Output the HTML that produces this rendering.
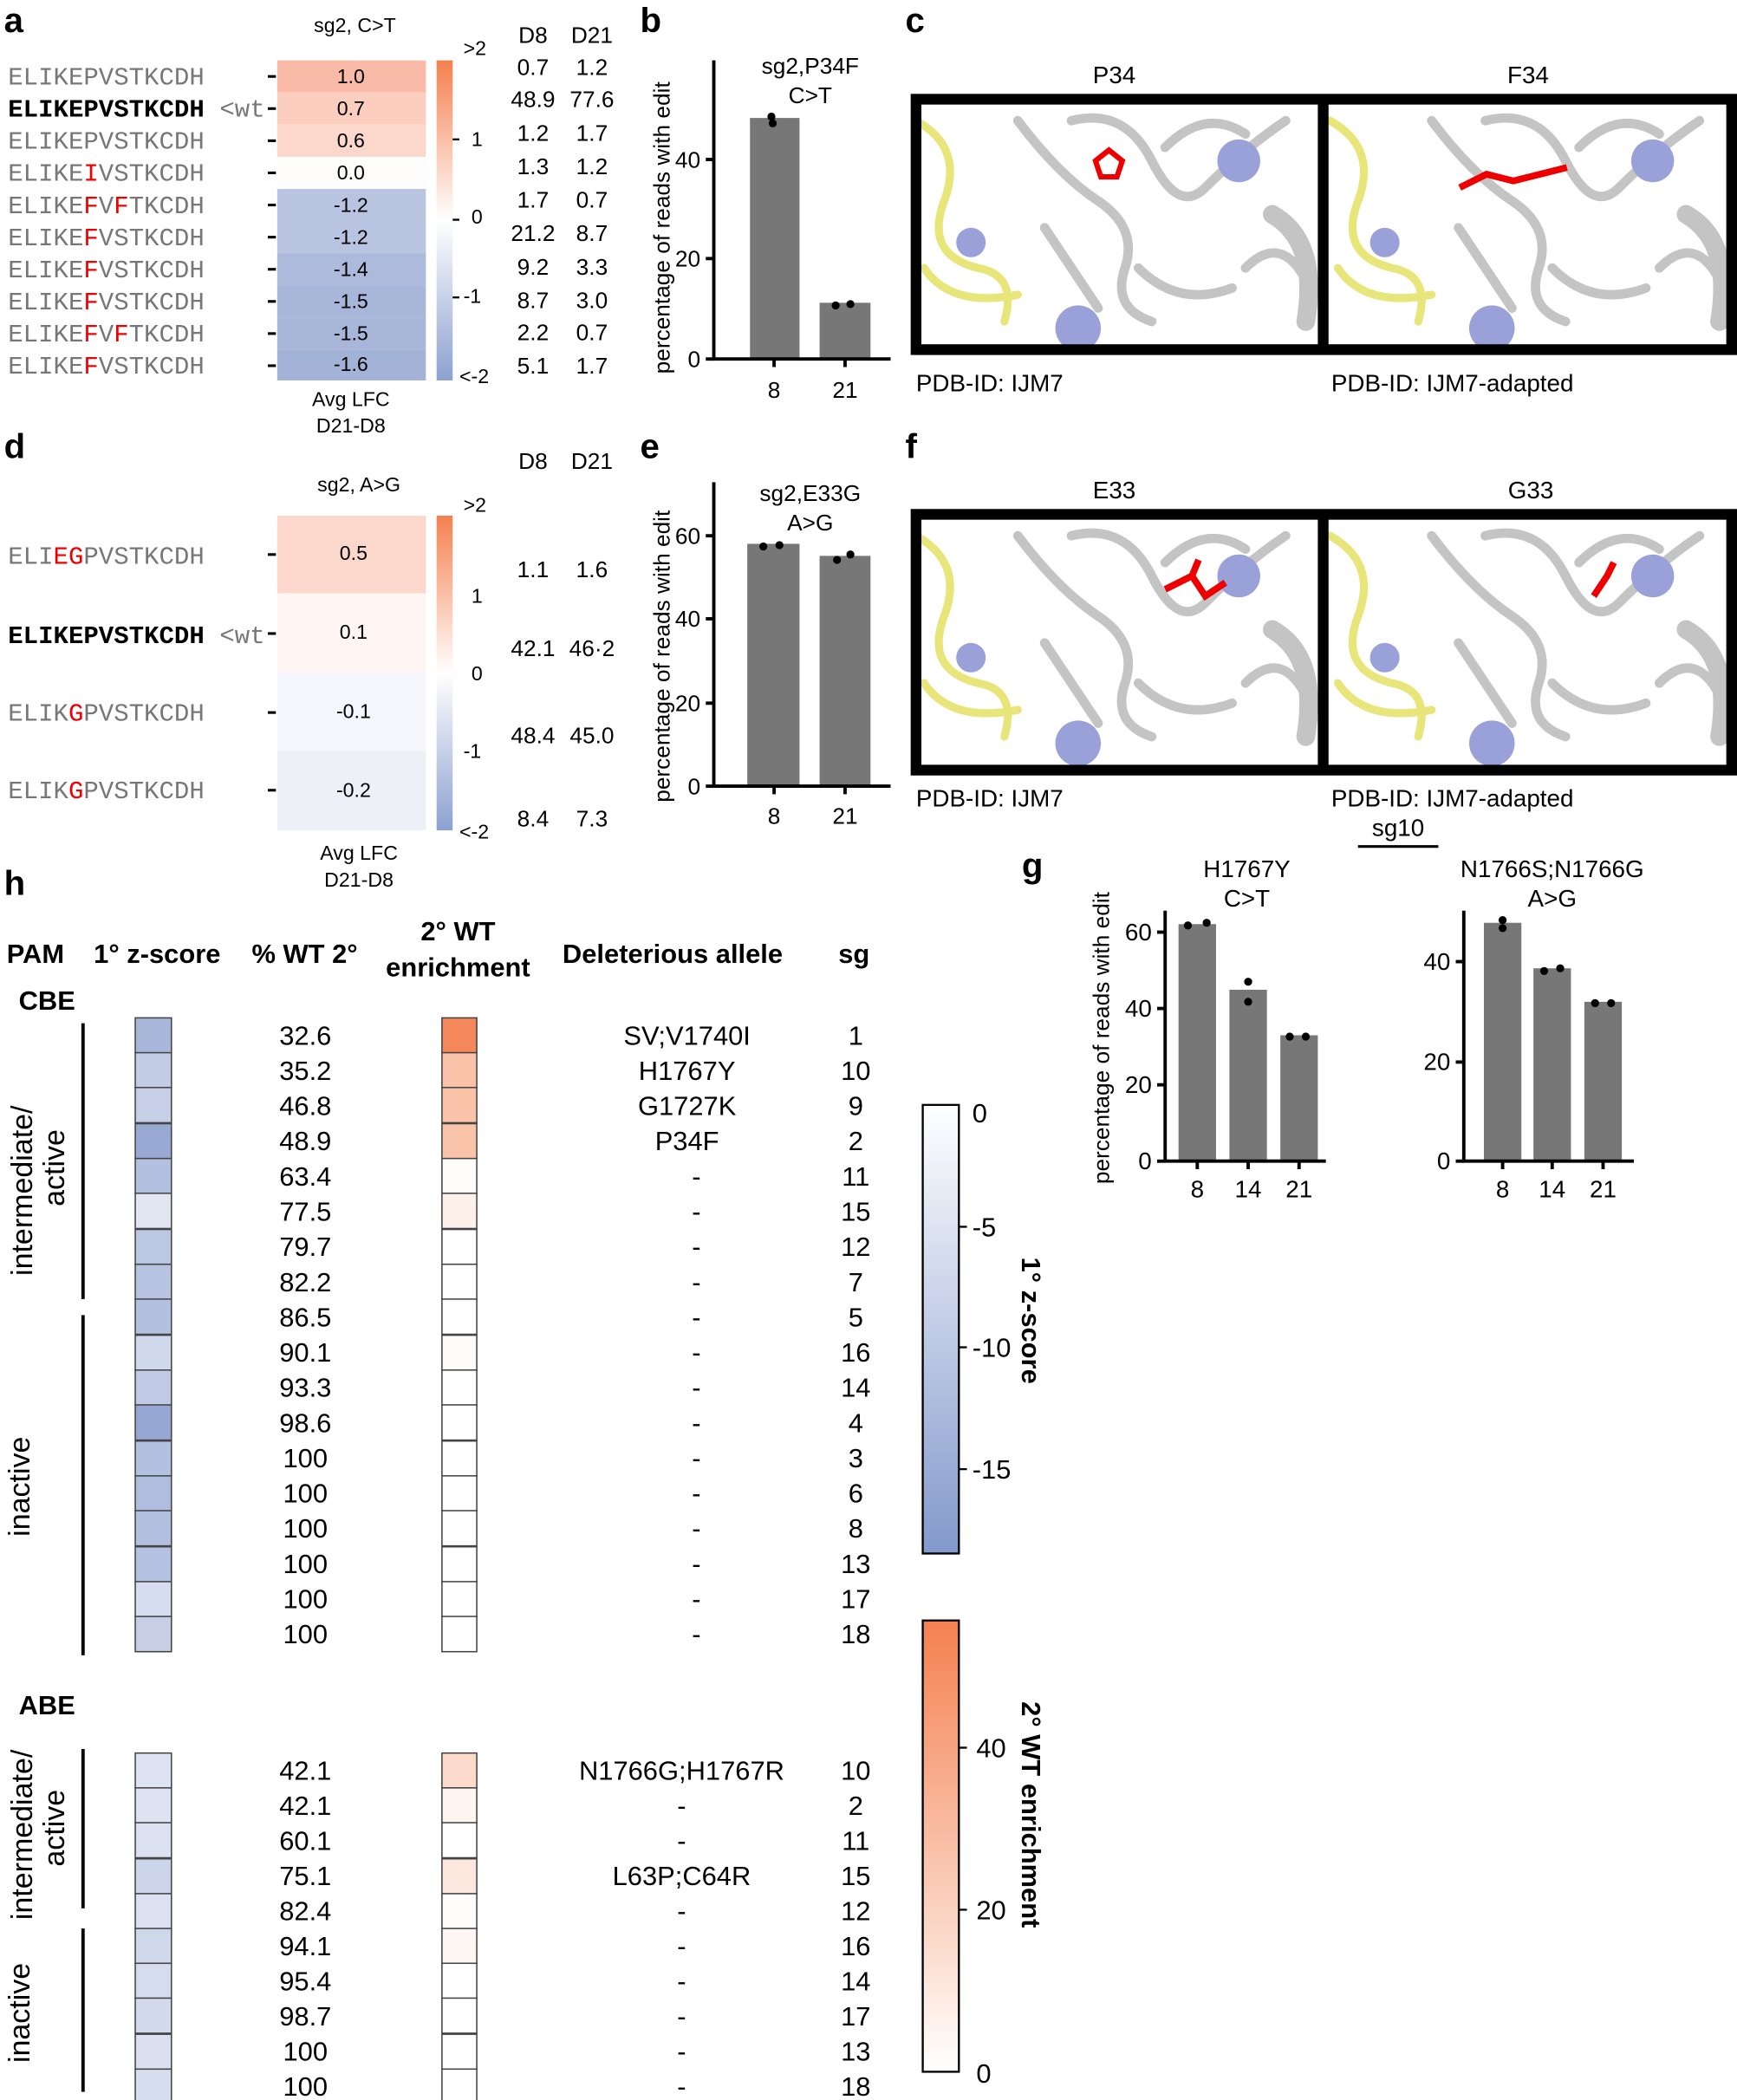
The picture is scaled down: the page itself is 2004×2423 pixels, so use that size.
<!DOCTYPE html>
<html><head><meta charset="utf-8"><style>
html,body{margin:0;padding:0;background:#fff}
svg{display:block}
text{font-family:"Liberation Sans",Arial,sans-serif}
.m text{font-family:"Liberation Mono","Courier New",monospace;font-size:18.8px;fill:#777}
</style></head><body>
<svg width="2004" height="2423" viewBox="0 0 1297 1568" xmlns="http://www.w3.org/2000/svg">
<defs>
<linearGradient id="cb1" x1="0" y1="0" x2="0" y2="1">
<stop offset="0" stop-color="#f4804f"/><stop offset="0.5" stop-color="#fff"/><stop offset="1" stop-color="#8da1d0"/></linearGradient>
<linearGradient id="cbz" x1="0" y1="0" x2="0" y2="1">
<stop offset="0" stop-color="#fff"/><stop offset="1" stop-color="#8399cc"/></linearGradient>
<linearGradient id="cbo" x1="0" y1="0" x2="0" y2="1">
<stop offset="0" stop-color="#f4804f"/><stop offset="1" stop-color="#fff"/></linearGradient>
</defs>
<g font-size="26" font-weight="bold">
<text x="3" y="24">a</text><text x="478" y="24">b</text><text x="676" y="24">c</text>
<text x="3" y="342">d</text><text x="478" y="342">e</text><text x="676" y="342">f</text>
<text x="763" y="655">g</text><text x="3" y="668">h</text></g>

<!-- panel a -->
<text x="265" y="24" font-size="15" text-anchor="middle">sg2, C&gt;T</text>
<g text-anchor="middle" font-size="17"><text x="398" y="32">D8</text><text x="442" y="32">D21</text><text x="398" y="350">D8</text><text x="442" y="350">D21</text></g>
<g>
<rect x="207" y="45" width="111" height="24" fill="#f9bba7"/>
<rect x="207" y="69" width="111" height="24" fill="#fbcebf"/>
<rect x="207" y="93" width="111" height="24" fill="#fcd7cb"/>
<rect x="207" y="117" width="111" height="24" fill="#fffcfc"/>
<rect x="207" y="141" width="111" height="24" fill="#b9c4e0"/>
<rect x="207" y="165" width="111" height="24" fill="#b9c4e0"/>
<rect x="207" y="189" width="111" height="24" fill="#adbadb"/>
<rect x="207" y="213" width="111" height="24" fill="#a8b6d9"/>
<rect x="207" y="237" width="111" height="24" fill="#a8b6d9"/>
<rect x="207" y="261" width="111" height="23" fill="#a3b2d7"/>
</g>
<g font-size="15" text-anchor="middle">
<text x="262" y="62">1.0</text><text x="262" y="86">0.7</text><text x="262" y="110">0.6</text><text x="262" y="134">0.0</text>
<text x="262" y="158">-1.2</text><text x="262" y="182">-1.2</text><text x="262" y="206">-1.4</text><text x="262" y="230">-1.5</text><text x="262" y="254">-1.5</text><text x="262" y="277">-1.6</text></g>
<g stroke="#000" stroke-width="2"><line x1="200" y1="57" x2="206" y2="57"/><line x1="200" y1="81" x2="206" y2="81"/><line x1="200" y1="105" x2="206" y2="105"/><line x1="200" y1="129" x2="206" y2="129"/><line x1="200" y1="153" x2="206" y2="153"/><line x1="200" y1="177" x2="206" y2="177"/><line x1="200" y1="201" x2="206" y2="201"/><line x1="200" y1="225" x2="206" y2="225"/><line x1="200" y1="249" x2="206" y2="249"/><line x1="200" y1="273" x2="206" y2="273"/></g>
<g class="m">
<text x="6" y="63">ELIKEPVSTKCDH</text>
<text x="6" y="87" style="fill:#000;font-weight:bold">ELIKEPVSTKCDH</text>
<text x="164" y="87">&lt;wt</text>
<text x="6" y="111">ELIKEPVSTKCDH</text>
<text x="6" y="135">ELIKE<tspan fill="#e00">I</tspan>VSTKCDH</text>
<text x="6" y="159">ELIKE<tspan fill="#e00">F</tspan>V<tspan fill="#e00">F</tspan>TKCDH</text>
<text x="6" y="183">ELIKE<tspan fill="#e00">F</tspan>VSTKCDH</text>
<text x="6" y="207">ELIKE<tspan fill="#e00">F</tspan>VSTKCDH</text>
<text x="6" y="231">ELIKE<tspan fill="#e00">F</tspan>VSTKCDH</text>
<text x="6" y="255">ELIKE<tspan fill="#e00">F</tspan>V<tspan fill="#e00">F</tspan>TKCDH</text>
<text x="6" y="279">ELIKE<tspan fill="#e00">F</tspan>VSTKCDH</text>
</g>
<rect x="326" y="45" width="12" height="239" fill="url(#cb1)"/>
<g font-size="15"><text x="346" y="41">&gt;2</text><text x="352" y="109">1</text><text x="352" y="167">0</text><text x="346" y="226">-1</text><text x="343" y="286">&lt;-2</text></g>
<g stroke="#000" stroke-width="1.5"><line x1="338" y1="104" x2="343" y2="104"/><line x1="338" y1="164" x2="343" y2="164"/><line x1="338" y1="222" x2="343" y2="222"/></g>
<g font-size="17" text-anchor="middle">
<text x="398" y="56">0.7</text><text x="442" y="56">1.2</text>
<text x="398" y="80">48.9</text><text x="442" y="80">77.6</text>
<text x="398" y="105">1.2</text><text x="442" y="105">1.7</text>
<text x="398" y="130">1.3</text><text x="442" y="130">1.2</text>
<text x="398" y="155">1.7</text><text x="442" y="155">0.7</text>
<text x="398" y="180">21.2</text><text x="442" y="180">8.7</text>
<text x="398" y="205">9.2</text><text x="442" y="205">3.3</text>
<text x="398" y="230">8.7</text><text x="442" y="230">3.0</text>
<text x="398" y="254">2.2</text><text x="442" y="254">0.7</text>
<text x="398" y="279">5.1</text><text x="442" y="279">1.7</text></g>
<g font-size="15" text-anchor="middle"><text x="262" y="303">Avg LFC</text><text x="262" y="323">D21-D8</text></g>

<!-- panel b -->
<g font-size="17" text-anchor="middle"><text x="605" y="55">sg2,P34F</text><text x="605" y="77">C&gt;T</text>
<text x="578" y="297">8</text><text x="631" y="297">21</text></g>
<rect x="560" y="88" width="37" height="180" fill="#777"/><rect x="612" y="226" width="38" height="42" fill="#777"/>
<circle cx="576" cy="87" r="3"/><circle cx="577" cy="92" r="3"/><circle cx="624" cy="228" r="3"/><circle cx="635" cy="227" r="3"/>
<g stroke="#000" stroke-width="2.5" fill="none"><path d="M533 45V268H665"/><line x1="527" y1="268" x2="533" y2="268"/><line x1="527" y1="193" x2="533" y2="193"/><line x1="527" y1="119" x2="533" y2="119"/><line x1="578" y1="268" x2="578" y2="274"/><line x1="631" y1="268" x2="631" y2="274"/></g>
<g font-size="17" text-anchor="end"><text x="523" y="274">0</text><text x="523" y="199">20</text><text x="523" y="125">40</text></g>
<text transform="translate(500,170) rotate(-90)" font-size="17" text-anchor="middle">percentage of reads with edit</text>

<!-- panel c structures -->
<g font-size="18" text-anchor="middle"><text x="832" y="62">P34</text><text x="1141" y="62">F34</text><text x="832" y="372">E33</text><text x="1143" y="372">G33</text></g>
<g id="s1">
<rect x="684" y="74" width="303" height="187" fill="#fff"/>
<g fill="none" stroke-linecap="round">
<path d="M684 90 Q720 110 705 150 Q690 190 730 200 Q760 205 750 240 M690 200 Q710 230 760 220" stroke="#e8e67a" stroke-width="6"/>
<path d="M760 90 Q790 130 820 150 Q850 170 840 200 Q830 230 860 240 M800 90 Q840 80 860 120 Q880 160 900 140 Q930 110 960 90 M930 200 Q960 170 980 220 M850 200 Q880 230 920 215 M870 110 Q900 80 930 100 M780 170 Q800 200 820 230" stroke="#c4c4c4" stroke-width="7"/>
<path d="M950 160 Q985 180 975 240" stroke="#c4c4c4" stroke-width="14"/>
</g>
<circle cx="925" cy="120" r="16" fill="#9aa0d8"/><circle cx="725" cy="181" r="11" fill="#9aa0d8"/><circle cx="805" cy="245" r="17" fill="#9aa0d8"/>
</g>
<use href="#s1" x="309"/>
<line x1="988" y1="74" x2="988" y2="261" stroke="#000" stroke-width="8"/>
<rect x="684" y="74" width="609" height="187" fill="none" stroke="#000" stroke-width="8"/>
<path d="M818 120 l10 -8 l10 8 l-4 12 h-12z" fill="none" stroke="#e00" stroke-width="4"/>
<path d="M1090 140 l20 -10 l20 5 l20 -5 l20 -5" fill="none" stroke="#e00" stroke-width="5"/>
<g font-size="18"><text x="684" y="292">PDB-ID: IJM7</text><text x="994" y="292">PDB-ID: IJM7-adapted</text>
<text x="684" y="602">PDB-ID: IJM7</text><text x="994" y="602">PDB-ID: IJM7-adapted</text></g>

<!-- panel f structures -->
<g transform="translate(0,310)">
<use href="#s1"/><use href="#s1" x="309"/>
<line x1="988" y1="74" x2="988" y2="265" stroke="#000" stroke-width="8"/>
<rect x="684" y="74" width="609" height="191" fill="none" stroke="#000" stroke-width="8"/>
<path d="M870 130 l20 -10 l10 15 l15 -10 M890 120 l5 -12" fill="none" stroke="#e00" stroke-width="5"/>
<path d="M1190 135 l10 -15 l5 -10" fill="none" stroke="#e00" stroke-width="5"/>
</g>

<!-- panel d -->
<text x="268" y="367" font-size="15" text-anchor="middle">sg2, A&gt;G</text>
<rect x="207" y="385" width="111" height="58" fill="#fcd8cc"/>
<rect x="207" y="443" width="111" height="59" fill="#fff6f3"/>
<rect x="207" y="502" width="111" height="59" fill="#f5f6fb"/>
<rect x="207" y="561" width="111" height="59" fill="#eef0f8"/>
<g font-size="15" text-anchor="middle"><text x="264" y="418">0.5</text><text x="264" y="477">0.1</text><text x="264" y="536">-0.1</text><text x="264" y="595">-0.2</text>
<text x="268" y="642">Avg LFC</text><text x="268" y="662">D21-D8</text></g>
<g stroke="#000" stroke-width="2"><line x1="200" y1="414" x2="206" y2="414"/><line x1="200" y1="473" x2="206" y2="473"/><line x1="200" y1="532" x2="206" y2="532"/><line x1="200" y1="590" x2="206" y2="590"/></g>
<g class="m">
<text x="6" y="421">ELI<tspan fill="#e00">EG</tspan>PVSTKCDH</text>
<text x="6" y="480" style="fill:#000;font-weight:bold">ELIKEPVSTKCDH</text><text x="164" y="480">&lt;wt</text>
<text x="6" y="538">ELIK<tspan fill="#e00">G</tspan>PVSTKCDH</text>
<text x="6" y="596">ELIK<tspan fill="#e00">G</tspan>PVSTKCDH</text></g>
<rect x="326" y="385" width="12" height="235" fill="url(#cb1)"/>
<g font-size="15"><text x="346" y="382">&gt;2</text><text x="352" y="450">1</text><text x="352" y="508">0</text><text x="346" y="566">-1</text><text x="343" y="626">&lt;-2</text></g>
<g font-size="17" text-anchor="middle">
<text x="398" y="431">1.1</text><text x="442" y="431">1.6</text>
<text x="398" y="490">42.1</text><text x="442" y="490">46·2</text>
<text x="398" y="555">48.4</text><text x="442" y="555">45.0</text>
<text x="398" y="617">8.4</text><text x="442" y="617">7.3</text></g>

<!-- panel e -->
<g font-size="17" text-anchor="middle"><text x="605" y="374">sg2,E33G</text><text x="605" y="396">A&gt;G</text>
<text x="578" y="615">8</text><text x="631" y="615">21</text></g>
<rect x="558" y="406" width="39" height="181" fill="#777"/><rect x="612" y="415" width="38" height="172" fill="#777"/>
<circle cx="570" cy="408" r="3"/><circle cx="582" cy="407" r="3"/><circle cx="625" cy="418" r="3"/><circle cx="635" cy="414" r="3"/>
<g stroke="#000" stroke-width="2.5" fill="none"><path d="M533 360V587H665"/><line x1="527" y1="587" x2="533" y2="587"/><line x1="527" y1="525" x2="533" y2="525"/><line x1="527" y1="462" x2="533" y2="462"/><line x1="527" y1="400" x2="533" y2="400"/><line x1="578" y1="587" x2="578" y2="593"/><line x1="631" y1="587" x2="631" y2="593"/></g>
<g font-size="17" text-anchor="end"><text x="523" y="593">0</text><text x="523" y="531">20</text><text x="523" y="468">40</text><text x="523" y="406">60</text></g>
<text transform="translate(500,490) rotate(-90)" font-size="17" text-anchor="middle">percentage of reads with edit</text>

<!-- panel g -->
<text x="1044" y="624" font-size="18" text-anchor="middle">sg10</text>
<line x1="1014" y1="632" x2="1074" y2="632" stroke="#000" stroke-width="2"/>
<g font-size="18" text-anchor="middle"><text x="931" y="655">H1767Y</text><text x="931" y="677">C&gt;T</text><text x="1159" y="655">N1766S;N1766G</text><text x="1159" y="677">A&gt;G</text></g>
<rect x="880" y="690" width="28" height="177" fill="#777"/><rect x="918" y="739" width="28" height="128" fill="#777"/><rect x="956" y="773" width="28" height="94" fill="#777"/>
<circle cx="887" cy="691" r="3"/><circle cx="901" cy="689" r="3"/><circle cx="932" cy="733" r="3"/><circle cx="932" cy="748" r="3"/><circle cx="963" cy="774" r="3"/><circle cx="975" cy="774" r="3"/>
<rect x="1108" y="689" width="28" height="178" fill="#777"/><rect x="1145" y="723" width="28" height="144" fill="#777"/><rect x="1183" y="748" width="28" height="119" fill="#777"/>
<circle cx="1122" cy="687" r="3"/><circle cx="1122" cy="693" r="3"/><circle cx="1153" cy="725" r="3"/><circle cx="1165" cy="723" r="3"/><circle cx="1191" cy="749" r="3"/><circle cx="1203" cy="749" r="3"/>
<g stroke="#000" stroke-width="2.5" fill="none">
<path d="M870 680V867H990"/><line x1="864" y1="867" x2="870" y2="867"/><line x1="864" y1="810" x2="870" y2="810"/><line x1="864" y1="753" x2="870" y2="753"/><line x1="864" y1="696" x2="870" y2="696"/>
<line x1="894" y1="867" x2="894" y2="873"/><line x1="932" y1="867" x2="932" y2="873"/><line x1="970" y1="867" x2="970" y2="873"/>
<path d="M1093 680V867H1220"/><line x1="1087" y1="867" x2="1093" y2="867"/><line x1="1087" y1="793" x2="1093" y2="793"/><line x1="1087" y1="718" x2="1093" y2="718"/>
<line x1="1122" y1="867" x2="1122" y2="873"/><line x1="1159" y1="867" x2="1159" y2="873"/><line x1="1197" y1="867" x2="1197" y2="873"/></g>
<g font-size="18" text-anchor="end"><text x="860" y="873">0</text><text x="860" y="816">20</text><text x="860" y="759">40</text><text x="860" y="702">60</text>
<text x="1083" y="873">0</text><text x="1083" y="799">20</text><text x="1083" y="724">40</text></g>
<g font-size="18" text-anchor="middle"><text x="894" y="894">8</text><text x="932" y="894">14</text><text x="970" y="894">21</text><text x="1122" y="894">8</text><text x="1159" y="894">14</text><text x="1197" y="894">21</text></g>
<text transform="translate(828,775) rotate(-90)" font-size="17" text-anchor="middle">percentage of reads with edit</text>

<!-- panel h -->
<g font-size="20" font-weight="bold"><text x="5" y="719">PAM</text><text x="70" y="719">1° z-score</text><text x="188" y="719">% WT 2°</text>
<text x="342" y="702" text-anchor="middle">2° WT</text><text x="342" y="729" text-anchor="middle">enrichment</text>
<text x="420" y="719">Deleterious allele</text><text x="626" y="719">sg</text>
<text x="14" y="754">CBE</text><text x="14" y="1280">ABE</text></g>
<g stroke="#000" stroke-width="2.5"><line x1="62" y1="764" x2="62" y2="970"/><line x1="62" y1="982" x2="62" y2="1236"/><line x1="62" y1="1306" x2="62" y2="1425"/><line x1="62" y1="1440" x2="62" y2="1562"/></g>
<g font-size="22" text-anchor="middle">
<text transform="translate(24,889) rotate(-90)">intermediate/</text><text transform="translate(48,872) rotate(-90)">active</text>
<text transform="translate(22,1110) rotate(-90)">inactive</text>
<text transform="translate(24,1370) rotate(-90)">intermediate/</text><text transform="translate(48,1365) rotate(-90)">active</text>
<text transform="translate(22,1503) rotate(-90)">inactive</text></g>
<g stroke="#444" stroke-width="1">
<rect x="101" y="760" width="27" height="26.3" fill="#a8b6d9"/>
<rect x="101" y="786" width="27" height="26.3" fill="#c3cde5"/>
<rect x="101" y="812" width="27" height="26.3" fill="#c6cfe6"/>
<rect x="101" y="839" width="27" height="26.3" fill="#98a9d3"/>
<rect x="101" y="865" width="27" height="26.3" fill="#b2bfdf"/>
<rect x="101" y="891" width="27" height="26.3" fill="#e1e6f2"/>
<rect x="101" y="918" width="27" height="26.3" fill="#bcc7e3"/>
<rect x="101" y="944" width="27" height="26.3" fill="#b7c3e1"/>
<rect x="101" y="970" width="27" height="26.3" fill="#b3c0df"/>
<rect x="101" y="997" width="27" height="26.3" fill="#d0d8eb"/>
<rect x="101" y="1023" width="27" height="26.3" fill="#c0cae4"/>
<rect x="101" y="1049" width="27" height="26.3" fill="#95a7d2"/>
<rect x="101" y="1076" width="27" height="26.3" fill="#b4c0df"/>
<rect x="101" y="1102" width="27" height="26.3" fill="#b0bdde"/>
<rect x="101" y="1128" width="27" height="26.3" fill="#b2bfdf"/>
<rect x="101" y="1155" width="27" height="26.3" fill="#b5c1e0"/>
<rect x="101" y="1181" width="27" height="26.3" fill="#d6ddee"/>
<rect x="101" y="1207" width="27" height="26.3" fill="#c6cfe6"/>
<rect x="330" y="760" width="26" height="26.3" fill="#f5885a"/>
<rect x="330" y="786" width="26" height="26.3" fill="#fac2a9"/>
<rect x="330" y="812" width="26" height="26.3" fill="#fac2a9"/>
<rect x="330" y="839" width="26" height="26.3" fill="#fac4ab"/>
<rect x="330" y="865" width="26" height="26.3" fill="#fffdfc"/>
<rect x="330" y="891" width="26" height="26.3" fill="#fef0ea"/>
<rect x="330" y="918" width="26" height="26.3" fill="#fff"/>
<rect x="330" y="944" width="26" height="26.3" fill="#fff"/>
<rect x="330" y="970" width="26" height="26.3" fill="#fff"/>
<rect x="330" y="997" width="26" height="26.3" fill="#fefbfa"/>
<rect x="330" y="1023" width="26" height="26.3" fill="#fff"/>
<rect x="330" y="1049" width="26" height="26.3" fill="#fff"/>
<rect x="330" y="1076" width="26" height="26.3" fill="#fff"/>
<rect x="330" y="1102" width="26" height="26.3" fill="#fff"/>
<rect x="330" y="1128" width="26" height="26.3" fill="#fff"/>
<rect x="330" y="1155" width="26" height="26.3" fill="#fff"/>
<rect x="330" y="1181" width="26" height="26.3" fill="#fff"/>
<rect x="330" y="1207" width="26" height="26.3" fill="#fff"/>
<rect x="101" y="1309" width="27" height="26.2" fill="#dde3f1"/>
<rect x="101" y="1335" width="27" height="26.2" fill="#dde3f1"/>
<rect x="101" y="1361" width="27" height="26.2" fill="#dbe1f0"/>
<rect x="101" y="1388" width="27" height="26.2" fill="#cdd5ea"/>
<rect x="101" y="1414" width="27" height="26.2" fill="#dbe1f0"/>
<rect x="101" y="1440" width="27" height="26.2" fill="#cfd7eb"/>
<rect x="101" y="1466" width="27" height="26.2" fill="#d5dced"/>
<rect x="101" y="1492" width="27" height="26.2" fill="#d3daec"/>
<rect x="101" y="1519" width="27" height="26.2" fill="#dae0f0"/>
<rect x="101" y="1545" width="27" height="26.2" fill="#d6ddee"/>
<rect x="330" y="1309" width="26" height="26.2" fill="#fcdbcd"/>
<rect x="330" y="1335" width="26" height="26.2" fill="#fef4f0"/>
<rect x="330" y="1361" width="26" height="26.2" fill="#fff"/>
<rect x="330" y="1388" width="26" height="26.2" fill="#fde8df"/>
<rect x="330" y="1414" width="26" height="26.2" fill="#fffcfb"/>
<rect x="330" y="1440" width="26" height="26.2" fill="#fef7f4"/>
<rect x="330" y="1466" width="26" height="26.2" fill="#fff"/>
<rect x="330" y="1492" width="26" height="26.2" fill="#fff"/>
<rect x="330" y="1519" width="26" height="26.2" fill="#fff"/>
<rect x="330" y="1545" width="26" height="26.2" fill="#fff"/>
</g>
<g font-size="20" text-anchor="middle">
<g transform="translate(0,780)">
<text x="228" y="0">32.6</text><text x="228" y="26.3">35.2</text><text x="228" y="52.6">46.8</text><text x="228" y="78.9">48.9</text><text x="228" y="105.2">63.4</text><text x="228" y="131.5">77.5</text><text x="228" y="157.8">79.7</text><text x="228" y="184.1">82.2</text><text x="228" y="210.4">86.5</text><text x="228" y="236.7">90.1</text><text x="228" y="263">93.3</text><text x="228" y="289.3">98.6</text><text x="228" y="315.6">100</text><text x="228" y="341.9">100</text><text x="228" y="368.2">100</text><text x="228" y="394.5">100</text><text x="228" y="420.8">100</text><text x="228" y="447.1">100</text>
<text x="513" y="0">SV;V1740I</text><text x="513" y="26.3">H1767Y</text><text x="513" y="52.6">G1727K</text><text x="513" y="78.9">P34F</text>
<text x="520" y="105.2">-</text><text x="520" y="131.5">-</text><text x="520" y="157.8">-</text><text x="520" y="184.1">-</text><text x="520" y="210.4">-</text><text x="520" y="236.7">-</text><text x="520" y="263">-</text><text x="520" y="289.3">-</text><text x="520" y="315.6">-</text><text x="520" y="341.9">-</text><text x="520" y="368.2">-</text><text x="520" y="394.5">-</text><text x="520" y="420.8">-</text><text x="520" y="447.1">-</text>
<text x="639" y="0">1</text><text x="639" y="26.3">10</text><text x="639" y="52.6">9</text><text x="639" y="78.9">2</text><text x="639" y="105.2">11</text><text x="639" y="131.5">15</text><text x="639" y="157.8">12</text><text x="639" y="184.1">7</text><text x="639" y="210.4">5</text><text x="639" y="236.7">16</text><text x="639" y="263">14</text><text x="639" y="289.3">4</text><text x="639" y="315.6">3</text><text x="639" y="341.9">6</text><text x="639" y="368.2">8</text><text x="639" y="394.5">13</text><text x="639" y="420.8">17</text><text x="639" y="447.1">18</text>
</g>
<g transform="translate(0,1329)">
<text x="228" y="0">42.1</text><text x="228" y="26.2">42.1</text><text x="228" y="52.4">60.1</text><text x="228" y="78.6">75.1</text><text x="228" y="104.8">82.4</text><text x="228" y="131">94.1</text><text x="228" y="157.2">95.4</text><text x="228" y="183.4">98.7</text><text x="228" y="209.6">100</text><text x="228" y="235.8">100</text>
<text x="509" y="0">N1766G;H1767R</text><text x="509" y="26.2">-</text><text x="509" y="52.4">-</text><text x="509" y="78.6">L63P;C64R</text><text x="509" y="104.8">-</text><text x="509" y="131">-</text><text x="509" y="157.2">-</text><text x="509" y="183.4">-</text><text x="509" y="209.6">-</text><text x="509" y="235.8">-</text>
<text x="639" y="0">10</text><text x="639" y="26.2">2</text><text x="639" y="52.4">11</text><text x="639" y="78.6">15</text><text x="639" y="104.8">12</text><text x="639" y="131">16</text><text x="639" y="157.2">14</text><text x="639" y="183.4">17</text><text x="639" y="209.6">13</text><text x="639" y="235.8">18</text>
</g></g>

<!-- colorbars -->
<rect x="689" y="825" width="27" height="335" fill="url(#cbz)" stroke="#000" stroke-width="1.5"/>
<rect x="689" y="1210" width="27" height="337" fill="url(#cbo)" stroke="#000" stroke-width="1.5"/>
<g stroke="#000" stroke-width="1.5"><line x1="716" y1="916" x2="722" y2="916"/><line x1="716" y1="1006" x2="722" y2="1006"/><line x1="716" y1="1097" x2="722" y2="1097"/><line x1="716" y1="1305" x2="722" y2="1305"/><line x1="716" y1="1426" x2="722" y2="1426"/></g>
<g font-size="20"><text x="726" y="838">0</text><text x="726" y="923">-5</text><text x="726" y="1013">-10</text><text x="726" y="1104">-15</text>
<text x="729" y="1312">40</text><text x="729" y="1433">20</text><text x="729" y="1555">0</text></g>
<g font-size="20" font-weight="bold" text-anchor="middle"><text transform="translate(763,986) rotate(90)">1° z-score</text><text transform="translate(763,1355) rotate(90)">2° WT enrichment</text></g>
</svg>
</body></html>
